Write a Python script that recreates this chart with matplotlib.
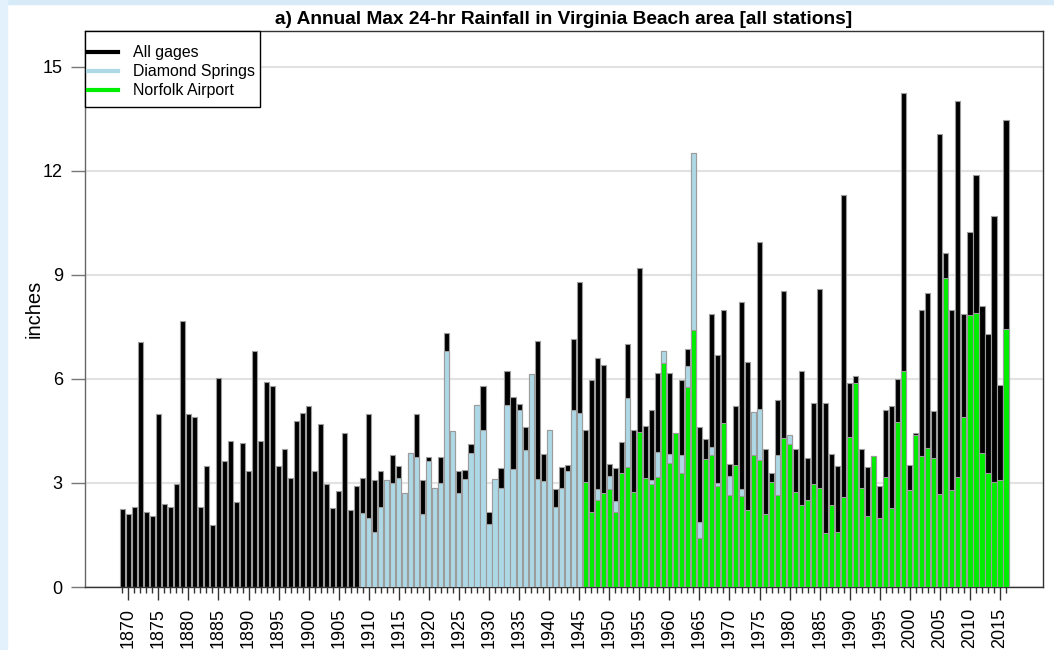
import numpy as np
import matplotlib.pyplot as plt
from matplotlib.lines import Line2D
from matplotlib.patches import Rectangle

# annual max 24-hr rainfall (inches)
years = np.arange(1869, 2017)
all_gages = [
    2.26, 2.10, 2.30, 7.06, 2.17, 2.06, 5.00, 2.40, 2.30, 2.98,   # 1869-1878
    7.66, 5.00, 4.89, 2.30, 3.50, 1.80, 6.02, 3.64, 4.20, 2.46,   # 1879-1888
    4.14, 3.35, 6.81, 4.20, 5.90, 5.79, 3.50, 3.97, 3.15, 4.79,   # 1889-1898
    5.03, 5.22, 3.35, 4.69, 2.98, 2.28, 2.76, 4.43, 2.23, 2.90,   # 1899-1908
    3.15, 5.00, 3.08, 3.33, 3.08, 3.81, 3.50, 2.70, 3.85, 5.00,   # 1909-1918
    3.08, 3.74, 2.85, 3.74, 7.31, 4.50, 3.34, 3.38, 4.12, 5.24,   # 1919-1928
    5.79, 2.16, 3.10, 3.44, 6.22, 5.48, 5.29, 4.62, 6.14, 7.09,   # 1929-1938
    3.84, 4.52, 2.83, 3.47, 3.53, 7.15, 8.80, 4.52, 5.98, 6.60,   # 1939-1948
    6.40, 3.55, 3.43, 4.17, 7.00, 4.52, 9.20, 4.65, 5.09, 6.18,   # 1949-1958
    6.79, 6.18, 4.44, 5.98, 6.86, 12.50, 4.61, 4.27, 7.87, 6.69,  # 1959-1968
    8.00, 3.55, 5.21, 8.23, 6.50, 5.04, 9.95, 3.98, 3.29, 5.39,   # 1969-1978
    8.52, 4.39, 3.98, 6.24, 3.73, 5.30, 8.59, 5.30, 3.84, 3.49,   # 1979-1988
    11.30, 5.87, 6.09, 3.98, 3.46, 3.78, 2.90, 5.11, 5.21, 6.00,  # 1989-1998
    14.25, 3.51, 4.45, 8.00, 8.49, 5.08, 13.06, 9.64, 8.00, 14.01,  # 1999-2008
    7.87, 10.24, 11.87, 8.11, 7.28, 10.70, 5.83, 13.45,           # 2009-2016
]

ds_years = np.arange(1909, 1981)
diamond = [
    2.14, 2.00, 1.58, 2.31, 3.08, 3.00, 3.13, 2.70, 3.85, 3.76,   # 1909-1918
    2.11, 3.62, 2.85, 3.00, 6.79, 4.50, 2.71, 3.10, 3.85, 5.24,   # 1919-1928
    4.54, 1.81, 3.10, 2.85, 5.24, 3.39, 5.09, 3.95, 6.14, 3.10,   # 1929-1938
    3.05, 4.52, 2.30, 2.85, 3.33, 5.09, 5.03, 2.60, 1.90, 2.83,   # 1939-1948
    2.40, 3.19, 2.47, 2.90, 5.44, 2.30, 4.10, 2.80, 3.09, 3.89,   # 1949-1958
    6.79, 3.84, 3.90, 3.82, 6.38, 12.50, 1.87, 3.20, 4.05, 2.99,  # 1959-1968
    4.20, 3.19, 3.10, 2.83, 2.00, 5.04, 5.13, 1.90, 2.70, 3.81,   # 1969-1978
    3.90, 4.39,                                                   # 1979-1980
]

nf_years = np.arange(1946, 2017)
norfolk = [
    3.04, 2.16, 2.50, 2.72, 2.83, 2.16, 3.29, 3.45, 2.74, 4.48,   # 1946-1955
    3.14, 2.96, 3.17, 6.46, 3.58, 4.44, 3.29, 5.76, 7.42, 1.42,   # 1956-1965
    3.69, 3.81, 2.91, 4.73, 2.64, 3.52, 2.61, 2.23, 3.81, 3.65,   # 1966-1975
    2.11, 3.04, 2.64, 4.30, 4.13, 2.74, 2.36, 2.51, 2.97, 2.86,   # 1976-1985
    1.57, 2.35, 1.60, 2.59, 4.32, 5.87, 2.86, 2.05, 3.78, 2.00,   # 1986-1995
    3.16, 2.27, 4.76, 6.24, 2.79, 4.38, 3.78, 4.00, 3.73, 2.68,   # 1996-2005
    8.90, 2.79, 3.16, 4.90, 7.84, 7.91, 3.87, 3.28, 3.03, 3.08,   # 2006-2015
    7.43,                                                         # 2016
]

plt.rcParams['font.family'] = ['Liberation Sans', 'DejaVu Sans']

fig = plt.figure(figsize=(10.54, 6.5), dpi=100)
# light blue page edge around the white panel
fig.patches.append(Rectangle((0, 1 - 4/650), 1, 4/650, transform=fig.transFigure,
                             color='#d6eaf8', zorder=0))
fig.patches.append(Rectangle((0, 0), 7/1054, 1, transform=fig.transFigure,
                             color='#e2f1fb', zorder=0))

ax = fig.add_axes([85/1054, 63/650, 958/1054, 556/650])

edge = '#9c9c9c'
ax.bar(years, all_gages, width=0.85, color='black', edgecolor=edge, linewidth=0.8, zorder=2)
ax.bar(ds_years, diamond, width=0.85, color='#add8e6', edgecolor=edge, linewidth=0.8, zorder=3)
ax.bar(nf_years, norfolk, width=0.85, color='#00ee00', edgecolor=edge, linewidth=0.8, zorder=4)

ax.set_axisbelow(True)
ax.yaxis.grid(True, color='#e2e2e2', linewidth=1.5)

ax.set_xlim(1862.8, 2022.15)
ax.set_ylim(0, 16.03)
ax.set_yticks([0, 3, 6, 9, 12, 15])
ax.set_xticks(np.arange(1870, 2016, 5))
ax.set_xticks(years, minor=True)
ax.tick_params(axis='x', which='major', length=9, width=1, color='#333333',
               labelrotation=90, labelsize=13, pad=6)
ax.tick_params(axis='x', which='minor', length=4, width=1, color='#333333')
ax.tick_params(axis='y', length=10, width=1, color='#777777', labelsize=13, pad=6)

for sp in ax.spines.values():
    sp.set_color('#333333')
    sp.set_linewidth(1)
ax.spines['left'].set_color('#666666')

ax.set_ylabel('inches', fontsize=14.5)
ax.yaxis.set_label_coords(-0.043, 0.5)
ax.set_title('a) Annual Max 24-hr Rainfall in Virginia Beach area [all stations]',
             fontsize=13.8, fontweight='bold', pad=5)

# legend box drawn by hand (R-style tight left padding)
ax.add_patch(Rectangle((0, 1 - 76/556), 175/958, 76/556, transform=ax.transAxes,
                       facecolor='white', edgecolor='black', linewidth=1,
                       zorder=9, clip_on=False))
handles = [Line2D([], [], color='black', lw=3),
           Line2D([], [], color='#add8e6', lw=3),
           Line2D([], [], color='#00ee00', lw=3)]
leg = ax.legend(handles, ['All gages', 'Diamond Springs', 'Norfolk Airport'],
                loc='upper left', bbox_to_anchor=(3/958, 1 - 14.5/556),
                fontsize=11.4, frameon=False, borderaxespad=0, borderpad=0,
                handlelength=1.9, handletextpad=0.95, labelspacing=0.24)
leg.set_zorder(10)

fig.savefig('out.png', dpi=100)
